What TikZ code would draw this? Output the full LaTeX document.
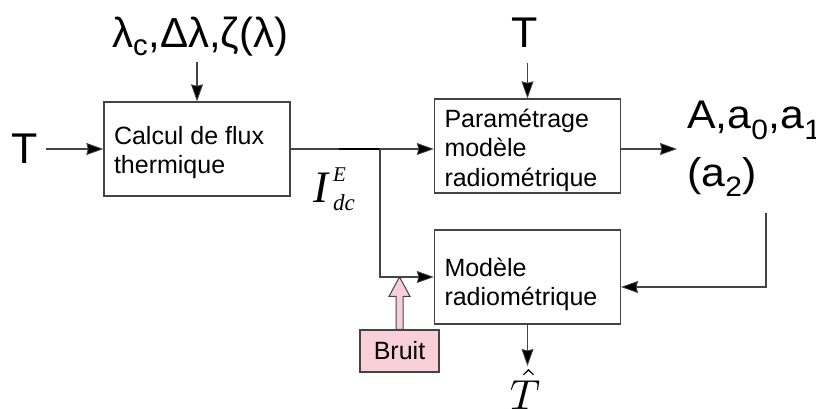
\documentclass[tikz,border=0pt]{standalone}
\usepackage{fontspec}
\setmainfont{Liberation Sans}
\newfontfamily\serifit{Liberation Serif}[ItalicFont=*,UprightFont=* Italic]
\usetikzlibrary{arrows.meta,calc}
\definecolor{ln}{HTML}{444444}
\definecolor{pinkfill}{HTML}{FAD0D8}
\newcommand\boxtext[2]{\parbox[c][94pt][t]{166pt}{\raggedright\rule{0pt}{#1}#2}}
\begin{document}
\begin{tikzpicture}[x=1pt,y=-1pt,
  >={Stealth[length=17pt,width=12pt,inset=1.5pt,fill=black,line width=0.8pt]},
  box/.style={draw=ln, line width=1.3pt, minimum width=186pt, minimum height=94pt,
    inner sep=0pt, font=\fontsize{25}{29}\selectfont},
  conn/.style={draw=ln, line width=1.3pt, ->},
  big/.style={font=\fontsize{43}{43}\selectfont, inner sep=0pt},
]
\useasboundingbox (0,0) rectangle (816,409);
% blocks
\node[box] (calc) at (197,149) {\boxtext{42pt}{Calcul de flux\\thermique}};
\node[box] (param) at (527.5,146) {\boxtext{29pt}{Paramétrage\\modèle\\radiométrique}};
\node[box] (model) at (527.5,277) {\boxtext{46pt}{Modèle\\radiométrique}};
\node[draw=ln, fill=pinkfill, line width=1.3pt, minimum width=79pt, minimum height=42pt,
  inner sep=0pt, font=\fontsize{25}{29}\selectfont] (bruit) at (399.5,351) {\raisebox{-3pt}{Bruit}};
% labels
\node[big, anchor=base] (Tl) at (25,163) {T};
\node[big, anchor=base] (Tt) at (525,48) {T};
\node[font=\fontsize{42}{42}\selectfont, anchor=base west, inner sep=0pt] (lam) at (112,48)
  {λ\textsubscript{c},Δλ,ζ(λ)};
\node[font=\fontsize{40}{40}\selectfont, anchor=base west, align=left, inner sep=0pt] (coef) at (687,186)
  {\scalebox{1.07}[1]{A,a\textsubscript{0},a\textsubscript{1}}\\[16pt]\scalebox{1.07}[1]{(a\textsubscript{2})}};
\node[anchor=base west, inner sep=0pt] (idc) at (313,202)
  {\serifit\fontsize{45}{45}\selectfont I\kern5pt\makebox[0pt][l]{\raisebox{21pt}{\fontsize{21}{21}\selectfont E}}%
   \raisebox{-8pt}{\fontsize{23}{23}\selectfont dc}};
\node[anchor=base, inner sep=0pt] (that) at (525,409) {\scalebox{4.2}{$\hat{T}$}};
% coordinates
\coordinate (tin) at (46,149);
\coordinate (lamend) at (197,62);
\coordinate (ttend) at (527.5,63);
\coordinate (split) at (380,149);
\coordinate (thick) at (339,149);
\coordinate (coefin) at (677,149);
\coordinate (fb) at (766,213);
\coordinate (fbin) at (621,287);
\coordinate (tout) at (527.5,366);
\coordinate (btip) at (399.5,277);
% connectors
\draw[conn] (tin) -- (calc.west);
\draw[conn] (lamend) -- (calc.north);
\draw[conn] (ttend) -- (param.north);
\draw[conn] (calc.east) -- (param.west |- calc.east);
\draw[draw=black, line width=2.4pt] (thick) -- (split);
\draw[conn] (split) |- (model.west);
\draw[conn] (param.east |- coefin) -- (coefin);
\draw[conn] (fb) |- (fbin);
\draw[conn] (model.south) -- (tout);
% noise arrow
\draw[draw=ln, line width=1pt, fill=pinkfill]
  ($(bruit.north)+(-3.5,0)$) -- ++(0,-33) -- ++(-7,0) -- (btip)
  -- ($(bruit.north)+(10.5,-33)$) -- ++(-7,0) -- ($(bruit.north)+(3.5,0)$) -- cycle;
\end{tikzpicture}
\end{document}
